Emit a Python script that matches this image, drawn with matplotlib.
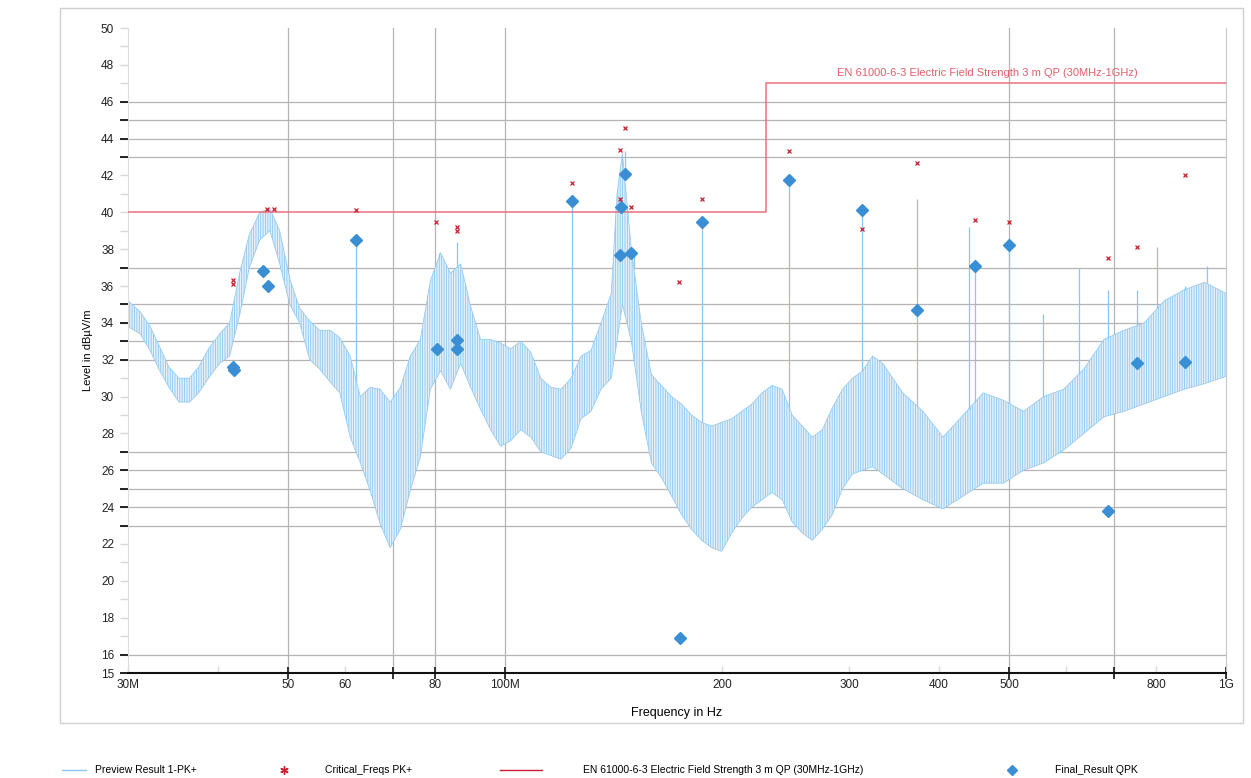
import matplotlib
matplotlib.use('Agg')
import matplotlib.pyplot as plt
from matplotlib.lines import Line2D
from matplotlib.patches import Rectangle
import numpy as np

plt.rcParams['font.family'] = ['Liberation Sans', 'DejaVu Sans']
plt.rcParams['hatch.linewidth'] = 0.6

# Preview Result 1-PK+ : envelope of the dense trace (MHz, dBuV/m)
trace_f = [30, 31.2, 32.2, 33.1, 34.2, 35.3, 36.5, 37.6, 38.8, 40.2, 41.5, 42.9, 44.2,
           45.7, 47.2, 48.7, 50.3, 51.9, 53.6, 55.3, 57.2, 59.0, 61.0, 63.0, 65.0,
           67.1, 69.3, 71.6, 73.9, 76.3, 78.8, 81.4, 84.0, 86.8, 89.6, 92.5, 95.5,
           98.6, 101.8, 105.2, 108.6, 112.1, 115.8, 119.6, 123.5, 127.5, 131.6,
           135.9, 140.4, 143.0, 145.5, 149.7, 154.5, 159.6, 164.8, 170.2, 175.7,
           181.4, 187.4, 193.5, 199.8, 206.3, 213.1, 220.0, 227.2, 234.6, 242.3,
           250.2, 258.4, 266.8, 275.5, 284.5, 293.8, 303.4, 313.3, 323.5, 334.1,
           345.0, 356.3, 379.9, 405.1, 432.0, 460.6, 491.2, 523.8, 558.5, 595.6,
           635.1, 677.2, 722.2, 770.1, 821.2, 875.7, 933.8, 1000]
trace_lo = [33.8, 33.4, 32.5, 31.5, 30.5, 29.7, 29.7, 30.2, 31.0, 31.8, 32.2, 34.5, 37.0,
            38.5, 39.0, 37.2, 35.0, 34.0, 32.0, 31.5, 30.8, 30.2, 27.8, 26.4, 24.9,
            23.1, 21.8, 22.8, 24.9, 26.7, 30.4, 31.4, 30.4, 31.8, 30.5, 29.3, 28.2,
            27.3, 27.6, 28.2, 27.8, 27.0, 26.8, 26.6, 27.2, 28.8, 29.2,
            30.4, 31.0, 33.0, 35.0, 33.0, 29.2, 26.4, 25.6, 24.6, 23.6,
            22.8, 22.2, 21.8, 21.6, 22.6, 23.4, 24.0, 24.4, 24.8, 24.4,
            23.2, 22.6, 22.2, 22.8, 23.6, 25.0, 25.8, 26.0, 26.2, 25.8,
            25.4, 25.0, 24.4, 23.9, 24.6, 25.3, 25.3, 26.0, 26.4, 27.1,
            28.0, 28.9, 29.2, 29.6, 30.0, 30.4, 30.7, 31.1]
trace_hi = [35.2, 34.6, 33.8, 32.8, 31.6, 31.0, 31.0, 31.6, 32.6, 33.4, 34.0, 36.8, 38.8,
            40.0, 40.2, 39.0, 36.4, 34.8, 34.1, 33.6, 33.6, 33.2, 32.2, 30.0, 30.5,
            30.4, 29.7, 30.5, 32.2, 33.1, 36.3, 37.8, 36.7, 37.2, 34.9, 33.1, 33.1,
            32.9, 32.6, 33.0, 32.4, 31.0, 30.5, 30.4, 31.0, 32.2, 32.5,
            34.0, 35.6, 41.0, 43.2, 38.0, 34.0, 31.2, 30.6, 30.0, 29.6,
            29.0, 28.6, 28.4, 28.6, 28.8, 29.2, 29.6, 30.2, 30.6, 30.4,
            29.0, 28.4, 27.8, 28.2, 29.4, 30.4, 31.0, 31.4, 32.2, 31.8,
            31.0, 30.2, 29.2, 27.8, 29.0, 30.2, 29.8, 29.2, 30.0, 30.4,
            31.5, 33.1, 33.6, 34.0, 35.2, 35.8, 36.2, 35.6]

# isolated narrow peaks of the preview trace
spike_f = [62.2, 81.0, 85.9, 124.0, 146.6, 151.0, 187.4, 248.0, 313.0, 373.0, 440.0,
           449.0, 500.0, 558.0, 625.0, 686.0, 753.0, 803.0, 876.0, 940.0]
spike_top = [38.4, 37.8, 38.4, 40.6, 43.3, 38.0, 39.5, 41.7, 40.1, 40.7, 39.2,
             37.1, 38.2, 34.5, 37.0, 35.8, 35.8, 38.1, 36.0, 37.1]

# Critical_Freqs PK+
crit_f = [42.0, 42.0, 46.8, 47.8, 62.2, 80.3, 85.9, 85.9, 124.0, 144.5, 144.5, 146.6,
          149.5, 187.4, 174.5, 248.0, 313.0, 373.0, 449.0, 500.0, 686.0, 753.0, 876.0]
crit_lvl = [36.3, 36.1, 40.2, 40.2, 40.1, 39.5, 39.2, 39.0, 41.6, 40.7, 43.4, 44.6,
            40.3, 40.7, 36.2, 43.3, 39.1, 42.7, 39.6, 39.5, 37.5, 38.1, 42.0]

# Final_Result QPK
qpk_f = [42.0, 42.1, 46.2, 46.9, 62.2, 80.5, 85.9, 85.9, 124.0, 144.5, 144.9, 146.6,
         149.5, 187.4, 175.0, 248.0, 313.0, 373.0, 449.0, 500.0, 686.0, 753.0, 876.0]
qpk_lvl = [31.6, 31.45, 36.8, 36.0, 38.5, 32.6, 33.05, 32.6, 40.6, 37.7, 40.3, 42.1,
           37.8, 39.5, 16.9, 41.75, 40.1, 34.7, 37.1, 38.2, 23.8, 31.8, 31.9]

# EN 61000-6-3 limit
limit_f = [30, 230, 230, 1000]
limit_lvl = [40, 40, 47, 47]
limit_name = 'EN 61000-6-3 Electric Field Strength 3 m QP (30MHz-1GHz)'

x_ticks = [30, 40, 50, 60, 70, 80, 100, 200, 300, 400, 500, 600, 700, 800, 1000]
x_labels = ['30M', '', '50', '60', '', '80', '100M', '200', '300', '400', '500', '', '', '800', '1G']
x_grid = [50, 70, 80, 100, 500, 700]
y_labels = [15] + list(range(16, 51, 2))
y_grid = [16, 23, 24, 25, 26, 27, 32, 33, 34, 35, 37, 43, 44, 45, 46]

trace_c = '#8cc6ee'
qpk_c = '#3a8fd4'
crit_c = '#c8202e'
lim_c = '#e8707c'

fig = plt.figure(figsize=(12.51, 7.78), dpi=100)
ax = fig.add_axes([128 / 1251, 1 - 673 / 778, 1098 / 1251, 645 / 778])
fig.patches.append(Rectangle((60 / 1251, 1 - 723 / 778), 1183 / 1251, 715 / 778,
                             transform=fig.transFigure, fill=False, ec='#d0d0d0', lw=1))

for g in y_grid:
    ax.axhline(g, color='#b4b4b4', lw=0.9, zorder=1)
for g in x_grid:
    ax.axvline(g, color='#b4b4b4', lw=0.9, zorder=1)

ax.fill_between(trace_f, trace_lo, trace_hi, facecolor='#e2f0fb', edgecolor=trace_c,
                hatch='|||||||', lw=0, zorder=2)
ax.plot(trace_f, trace_hi, color=trace_c, lw=0.5, zorder=2)
ax.plot(trace_f, trace_lo, color=trace_c, lw=0.5, zorder=2)
base = np.interp(np.log(spike_f), np.log(trace_f), trace_hi)
ax.vlines(spike_f, base, spike_top, color=trace_c, lw=0.9, zorder=2)

ax.plot(limit_f, limit_lvl, color=lim_c, lw=1.1, zorder=3)
ax.text(467, 47.55, limit_name, color='#e0606c', fontsize=8, ha='center', va='center')

ax.plot(qpk_f, qpk_lvl, ls='none', marker='D', ms=6.5, color=qpk_c, zorder=4)
ax.plot(crit_f, crit_lvl, ls='none', marker='x', ms=3.5, mew=0.9, color=crit_c, zorder=5)

ax.set_xscale('log')
ax.set_xlim(30, 1000)
ax.set_ylim(15, 50)

# labelled ticks are faint, the ticks at gridlines are dark (minor, drawn on top)
ax.xaxis.remove_overlapping_locs = False
ax.yaxis.remove_overlapping_locs = False
ax.set_xticks(x_ticks)
ax.set_xticklabels(x_labels)
ax.set_xticks(x_grid + [1000], minor=True)
ax.set_xticklabels([], minor=True)
ax.set_yticks(range(15, 51))
ax.set_yticklabels([str(v) if v in y_labels else '' for v in range(15, 51)])
ax.set_yticks(y_grid + [15], minor=True)
ax.set_yticklabels([], minor=True)
ax.tick_params(axis='both', which='major', labelsize=8.5, labelcolor='#222222', pad=4,
               color='#d8d8d8', width=1.0)
ax.tick_params(axis='x', which='major', direction='in', length=5)
ax.tick_params(axis='x', which='minor', direction='inout', length=8, width=1.2, color='#111111')
ax.tick_params(axis='y', which='major', length=6)
ax.tick_params(axis='y', which='minor', length=6, width=1.3, color='#111111')

ax.spines['top'].set_visible(False)
ax.spines['left'].set_color('#dddddd')
ax.spines['right'].set_color('#c8c8c8')
ax.spines['bottom'].set_color('#111111')
ax.spines['bottom'].set_linewidth(1.5)

ax.set_xlabel('Frequency in Hz', fontsize=9, labelpad=12)
ax.set_ylabel('Level in dBµV/m', fontsize=8, labelpad=6)

# legend row under the frame
ly = 1 - 770 / 778
fig.add_artist(Line2D([62 / 1251, 86 / 1251], [ly, ly], color=trace_c, lw=1))
fig.text(95 / 1251, ly, 'Preview Result 1-PK+', fontsize=7.5, va='center')
fig.add_artist(Line2D([284 / 1251], [ly], color=crit_c, marker=(6, 2, 0), ms=6, mew=1))
fig.text(325 / 1251, ly, 'Critical_Freqs PK+', fontsize=7.5, va='center')
fig.add_artist(Line2D([500 / 1251, 542 / 1251], [ly, ly], color='#c8202e', lw=1))
fig.text(583 / 1251, ly, limit_name, fontsize=7.5, va='center')
fig.add_artist(Line2D([1012 / 1251], [ly], color=qpk_c, marker='D', ms=5.5, ls='none'))
fig.text(1055 / 1251, ly, 'Final_Result QPK', fontsize=7.5, va='center')

fig.savefig('out.png', dpi=100)
